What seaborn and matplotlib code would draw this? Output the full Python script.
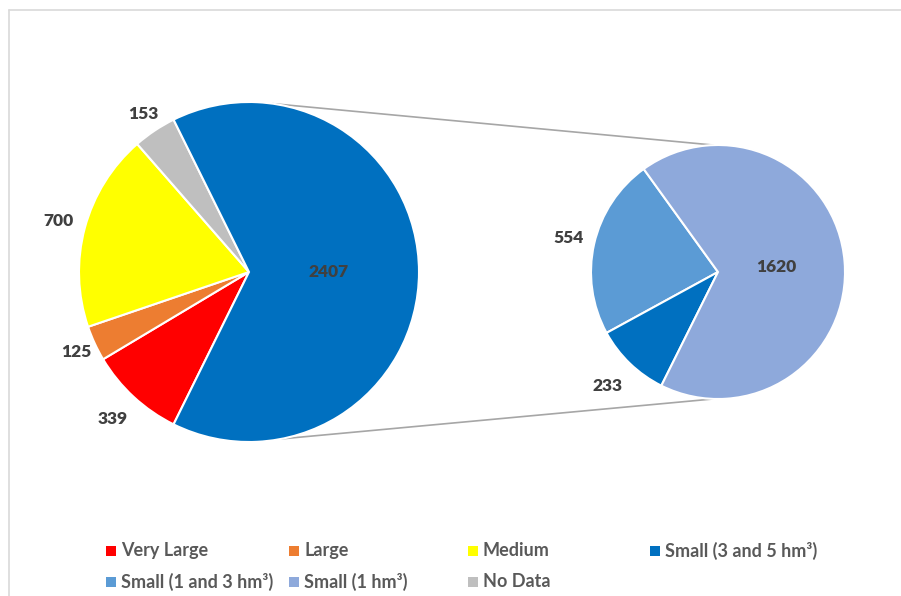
import numpy as np
import matplotlib
matplotlib.use("Agg")
import matplotlib.pyplot as plt
import seaborn as sns

# Primary pie: reservoir size classes (the three "Small" classes are merged)
main_labels = ["Very Large", "Large", "Medium", "No Data", "Small"]
main_values = [339, 125, 700, 153, 2407]

# Secondary pie: breakdown of the "Small" class
sub_labels = ["Small (1 and 3 hm³)", "Small (3 and 5 hm³)", "Small (1 hm³)"]
sub_values = [554, 233, 1620]

# Legend order
legend_labels = ["Very Large", "Large", "Medium", "Small (3 and 5 hm³)",
                 "Small (1 and 3 hm³)", "Small (1 hm³)", "No Data"]

colors = {
    "Very Large": "#FF0000",
    "Large": "#ED7D31",
    "Medium": "#FFFF00",
    "No Data": "#BFBFBF",
    "Small": "#0070C0",
    "Small (3 and 5 hm³)": "#0070C0",
    "Small (1 and 3 hm³)": "#5B9BD5",
    "Small (1 hm³)": "#8EA9DB",
}

sns.set_theme(style="white")
plt.rcParams["font.family"] = ["Lato", "DejaVu Sans"]

W, H = 901, 596
fig = plt.figure(figsize=(W / 100, H / 100), dpi=100)
ax = fig.add_axes([0, 0, 1, 1])


def Y(y):
    """Convert a top-down pixel row into data y (origin bottom-left)."""
    return H - y


# geometry of the two pies
c1, r1 = (249, Y(272)), 170
c2, r2 = (718, Y(272)), 127

# primary pie: "Small" wedge centred on 0 deg (facing the secondary pie)
small_share = main_values[-1] / sum(main_values) * 360
start1 = -small_share / 2
wedges1, _ = ax.pie(main_values, colors=[colors[k] for k in main_labels],
                    center=c1, radius=r1, startangle=start1, counterclock=False,
                    wedgeprops=dict(edgecolor="white", linewidth=1.5),
                    frame=True)

wedges2, _ = ax.pie(sub_values, colors=[colors[k] for k in sub_labels],
                    center=c2, radius=r2, startangle=125.8, counterclock=True,
                    wedgeprops=dict(edgecolor="white", linewidth=1.5),
                    frame=True)

# connector lines between the pies
for a1, a2 in [(82, 92), (-79, -92)]:
    p1 = (c1[0] + r1 * np.cos(np.radians(a1)), c1[1] + r1 * np.sin(np.radians(a1)))
    p2 = (c2[0] + r2 * np.cos(np.radians(a2)), c2[1] + r2 * np.sin(np.radians(a2)))
    ax.plot([p1[0], p2[0]], [p1[1], p2[1]], color="#A6A6A6", lw=1.2, zorder=0)

# data labels placed along each wedge's mid angle
label_color = "#404040"
dist1 = [1.18, 1.12, 1.16, 1.12, 0.47]
dist2 = [1.21, 1.25, 0.46]
for wedges, values, dists, c, r in [(wedges1, main_values, dist1, c1, r1),
                                    (wedges2, sub_values, dist2, c2, r2)]:
    for w, v, d in zip(wedges, values, dists):
        mid = np.radians((w.theta1 + w.theta2) / 2)
        ax.text(c[0] + d * r * np.cos(mid), c[1] + d * r * np.sin(mid), f"{v}",
                ha="center", va="center", fontsize=12.5, fontweight="heavy",
                color=label_color)

# legend drawn as two rows of colored squares with text
col_x = [110.7, 294, 473, 655]
row_y = [550.7, 581.7]
for i, name in enumerate(legend_labels):
    x = col_x[i % 4]
    y = Y(row_y[i // 4])
    ax.scatter([x], [y], marker="s", s=42, color=colors[name], linewidths=0)
    ax.text(x + 10, y, name, ha="left", va="center", fontsize=13,
            fontweight="bold", color="#595959")

# chart area border
ax.plot([9, 9], [Y(10), -5], color="#D9D9D9", lw=1.2)
ax.plot([9, W + 5], [Y(10), Y(10)], color="#D9D9D9", lw=1.2)

ax.set_xlim(0, W)
ax.set_ylim(0, H)
ax.set_aspect("equal")
ax.axis("off")

fig.savefig("out.png", dpi=100, facecolor="white")
